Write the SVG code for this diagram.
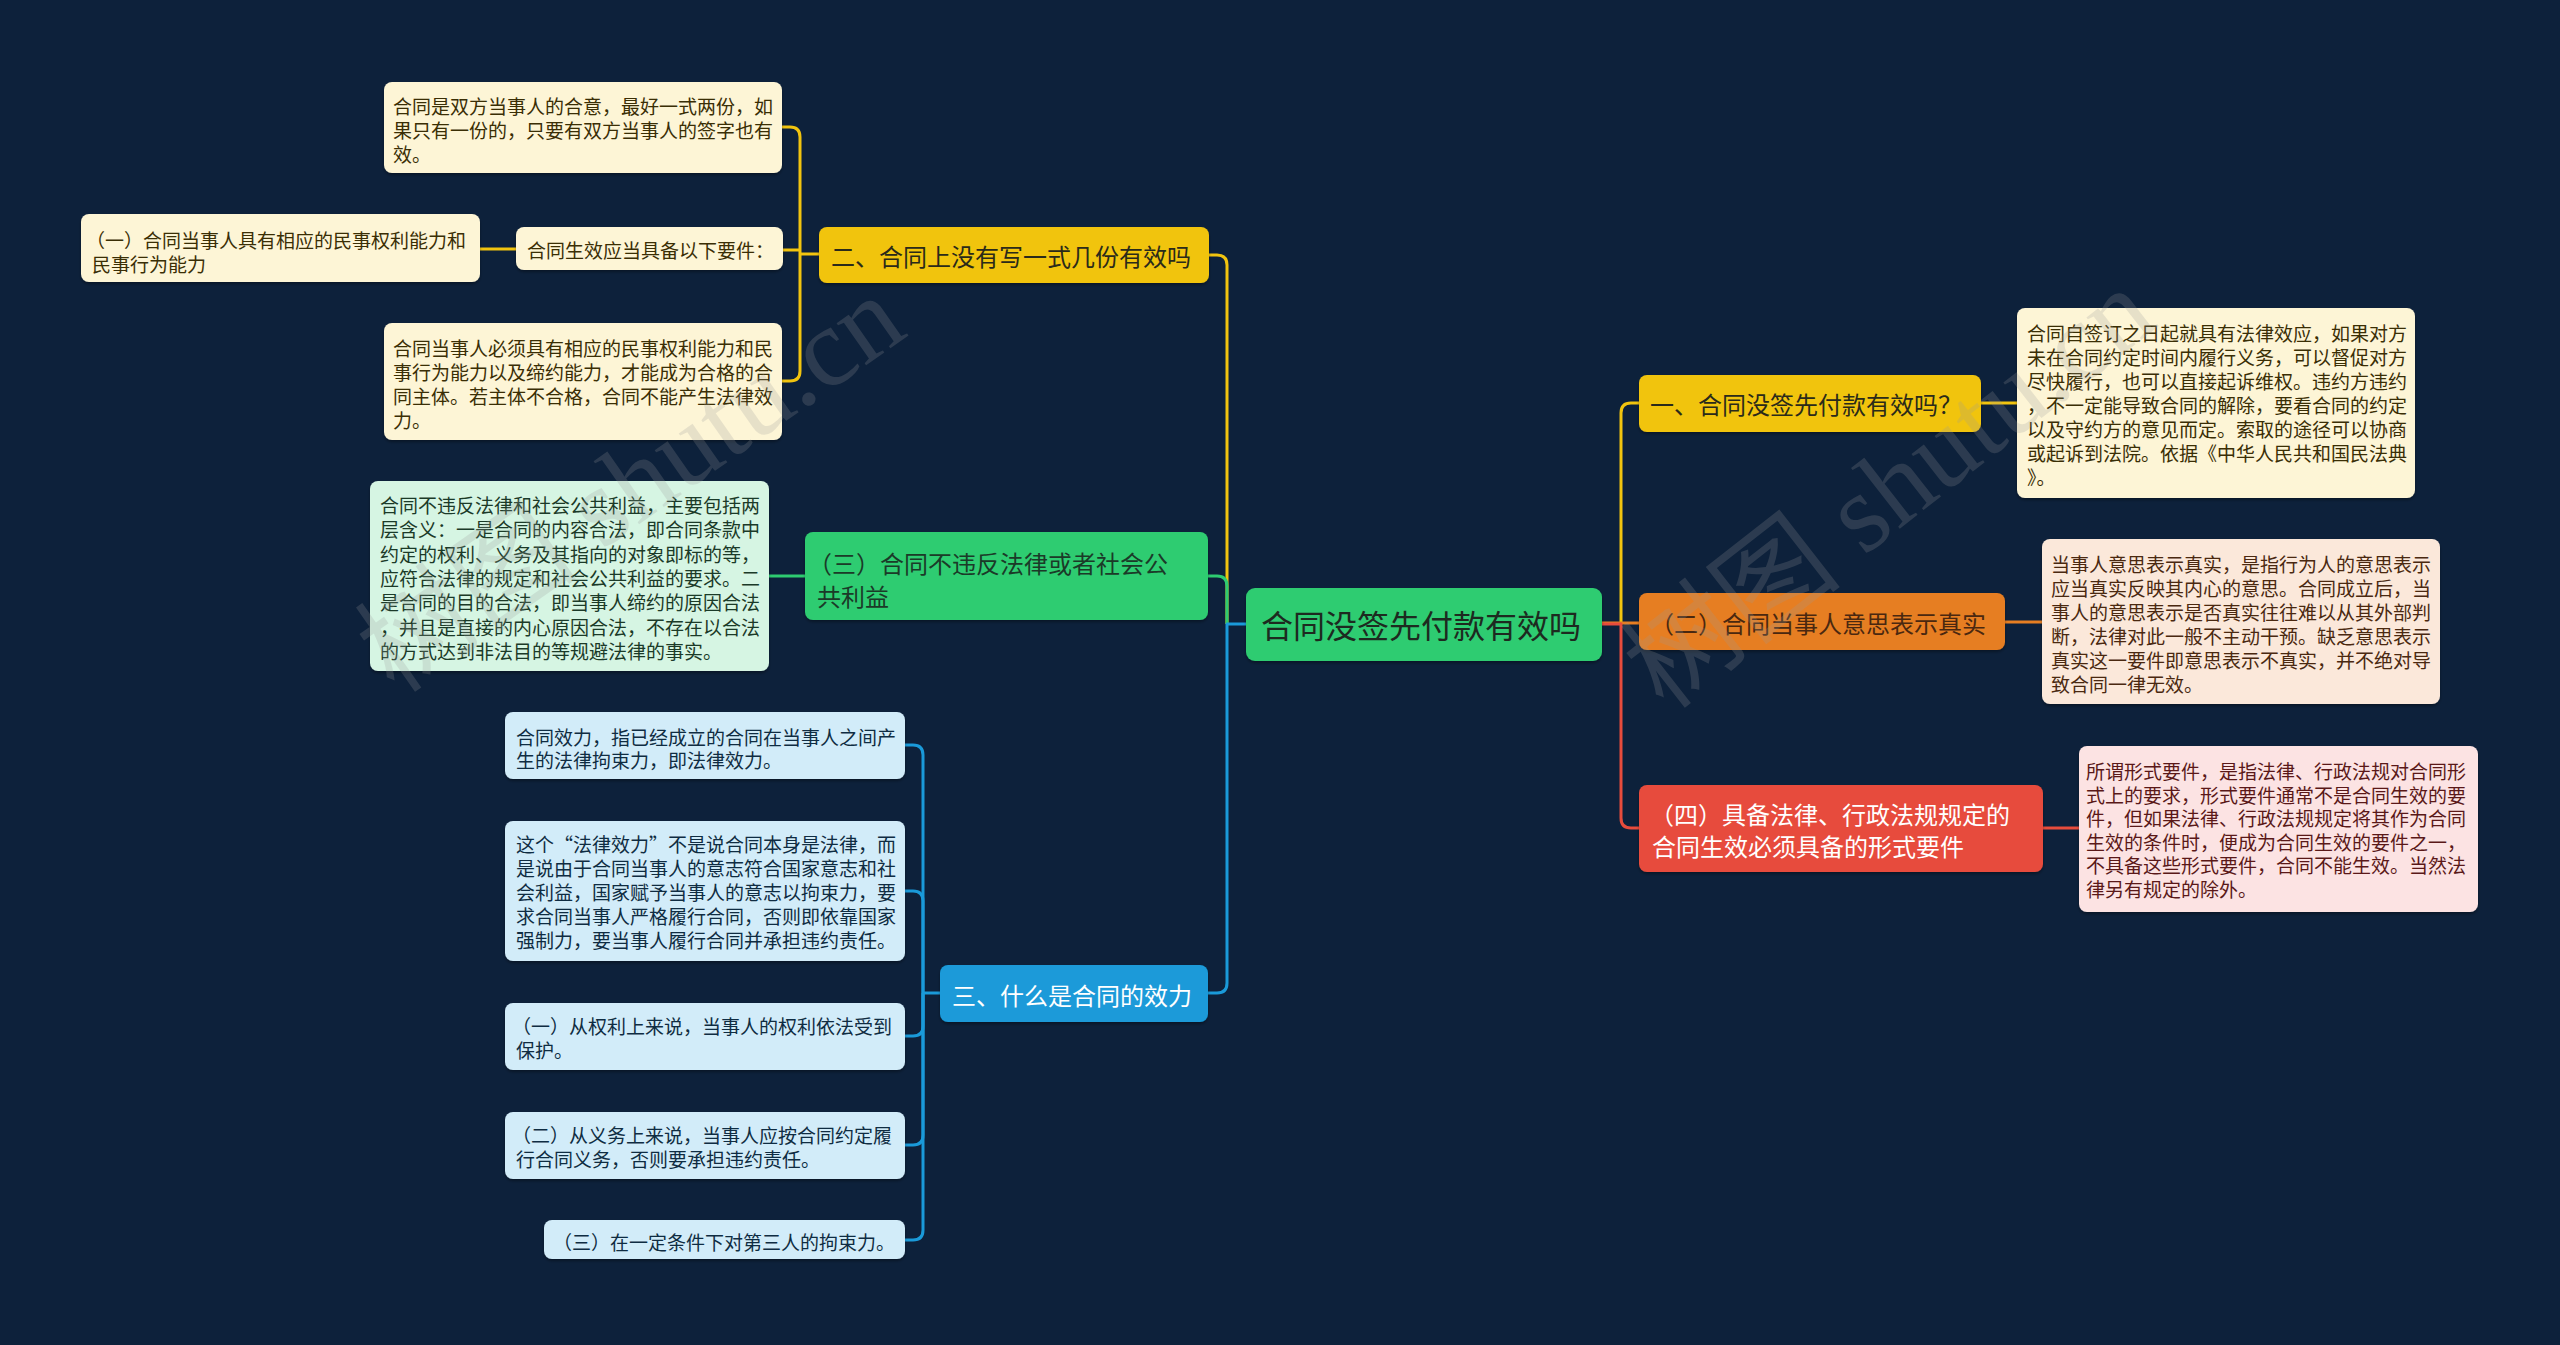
<svg xmlns="http://www.w3.org/2000/svg" width="2560" height="1345" viewBox="0 0 2560 1345">
<defs>
<filter id="sh" x="-5%" y="-5%" width="110%" height="120%">
<feDropShadow dx="0" dy="2" stdDeviation="1.5" flood-color="#000" flood-opacity="0.35"/>
</filter>
<style>
text{font-family:"Noto Sans CJK SC","Noto Sans",sans-serif;dominant-baseline:central}
.lf{font-size:19px}
.br{font-size:24px}
.ct{font-size:32px;fill:#1d2a20}
.c{fill:none;stroke-width:3;stroke-linejoin:round}
.y{stroke:#f1c40f}.g{stroke:#2ecc71}.b{stroke:#1a9ad9}.o{stroke:#e67e22}.r{stroke:#e74c3c}
.by{fill:#f1c40f}.bg2{fill:#2ecc71}.bb{fill:#1a9ad9}.bo{fill:#e67e22}.bred{fill:#e74c3c}
.ly{fill:#fdf5d6}.lg{fill:#d6f5e3}.lb{fill:#d2ecf9}.lo{fill:#fbe8da}.lr{fill:#fce3e3}
.ty{fill:#3a2e05}.tg{fill:#1b3a28}.tb{fill:#0f2c42}.to{fill:#4a2810}.tr{fill:#5a1818}
.tdark{fill:#2a2a1a}.twhite{fill:#ffffff}
.wm{font-family:"Liberation Serif","Noto Sans CJK SC",serif;font-size:112px;fill:#9a9a9a;opacity:0.22;dominant-baseline:auto}
</style>
</defs>
<rect width="2560" height="1345" fill="#0d213b"/>

<g id="connectors">
<path class="c y" d="M1227 624 V265 Q1227 255 1217 255 H1209"/>
<path class="c g" d="M1227 624 V586 Q1227 576 1217 576 H1208"/>
<path class="c b" d="M1246 624 H1227 V983 Q1227 993 1217 993 H1208"/>
<path class="c y" d="M1621 624 V413 Q1621 403 1631 403 H1639"/>
<path class="c o" d="M1602 623 H1639"/>
<path class="c r" d="M1602 624 H1621 V818 Q1621 828 1631 828 H1639"/>
<path class="c y" d="M1981 403 H2017"/>
<path class="c o" d="M2005 622 H2042"/>
<path class="c r" d="M2043 828 H2079"/>
<path class="c y" d="M819 254 H800"/>
<path class="c y" d="M800 254 V137 Q800 127 790 127 H782"/>
<path class="c y" d="M800 254 V371 Q800 381 790 381 H782"/>
<path class="c y" d="M800 250 H783"/>
<path class="c y" d="M516 249 H480"/>
<path class="c g" d="M805 576 H769"/>
<path class="c b" d="M940 993 H923"/>
<path class="c b" d="M923 993 V755 Q923 745 913 745 H905"/>
<path class="c b" d="M923 993 V901 Q923 891 913 891 H905"/>
<path class="c b" d="M923 993 V1026 Q923 1036 913 1036 H905"/>
<path class="c b" d="M923 993 V1135 Q923 1145 913 1145 H905"/>
<path class="c b" d="M923 993 V1230 Q923 1240 913 1240 H905"/>
</g>

<g id="center">
<rect x="1246" y="588" width="356" height="73" rx="9" class="bg2" filter="url(#sh)"/>
<text x="1261" y="624" class="ct">合同没签先付款有效吗</text>
</g>

<g id="b1">
<rect x="1639" y="375" width="342" height="57" rx="8" class="by" filter="url(#sh)"/>
<text x="1650" y="403" class="br tdark">一、合同没签先付款有效吗？</text>
</g>
<g id="b1-leaf">
<rect x="2017" y="308" width="398" height="190" rx="8" class="ly" filter="url(#sh)"/>
<text class="lf ty" x="2027">
<tspan x="2027" y="332">合同自签订之日起就具有法律效应，如果对方</tspan>
<tspan x="2027" y="356">未在合同约定时间内履行义务，可以督促对方</tspan>
<tspan x="2027" y="380">尽快履行，也可以直接起诉维权。违约方违约</tspan>
<tspan x="2027" y="404">，不一定能导致合同的解除，要看合同的约定</tspan>
<tspan x="2027" y="428">以及守约方的意见而定。索取的途径可以协商</tspan>
<tspan x="2027" y="452">或起诉到法院。依据《中华人民共和国民法典</tspan>
<tspan x="2027" y="476">》。</tspan>
</text>
</g>

<g id="b2">
<rect x="1639" y="593" width="366" height="57" rx="8" class="bo" filter="url(#sh)"/>
<text x="1650" y="622" class="br to">（二）合同当事人意思表示真实</text>
</g>
<g id="b2-leaf">
<rect x="2042" y="539" width="398" height="165" rx="8" class="lo" filter="url(#sh)"/>
<text class="lf to">
<tspan x="2051" y="563">当事人意思表示真实，是指行为人的意思表示</tspan>
<tspan x="2051" y="587">应当真实反映其内心的意思。合同成立后，当</tspan>
<tspan x="2051" y="611">事人的意思表示是否真实往往难以从其外部判</tspan>
<tspan x="2051" y="635">断，法律对此一般不主动干预。缺乏意思表示</tspan>
<tspan x="2051" y="659">真实这一要件即意思表示不真实，并不绝对导</tspan>
<tspan x="2051" y="683">致合同一律无效。</tspan>
</text>
</g>

<g id="b4">
<rect x="1639" y="785" width="404" height="87" rx="8" class="bred" filter="url(#sh)"/>
<text class="br twhite">
<tspan x="1650" y="813">（四）具备法律、行政法规规定的</tspan>
<tspan x="1652" y="845">合同生效必须具备的形式要件</tspan>
</text>
</g>
<g id="b4-leaf">
<rect x="2079" y="746" width="399" height="166" rx="8" class="lr" filter="url(#sh)"/>
<text class="lf tr">
<tspan x="2086" y="770">所谓形式要件，是指法律、行政法规对合同形</tspan>
<tspan x="2086" y="794">式上的要求，形式要件通常不是合同生效的要</tspan>
<tspan x="2086" y="817">件，但如果法律、行政法规规定将其作为合同</tspan>
<tspan x="2086" y="841">生效的条件时，便成为合同生效的要件之一，</tspan>
<tspan x="2086" y="864">不具备这些形式要件，合同不能生效。当然法</tspan>
<tspan x="2086" y="888">律另有规定的除外。</tspan>
</text>
</g>

<g id="l2">
<rect x="819" y="227" width="390" height="56" rx="8" class="by" filter="url(#sh)"/>
<text x="831" y="255" class="br tdark">二、合同上没有写一式几份有效吗</text>
</g>
<g id="l2-a">
<rect x="384" y="82" width="398" height="91" rx="8" class="ly" filter="url(#sh)"/>
<text class="lf ty">
<tspan x="393" y="105">合同是双方当事人的合意，最好一式两份，如</tspan>
<tspan x="393" y="129">果只有一份的，只要有双方当事人的签字也有</tspan>
<tspan x="393" y="153">效。</tspan>
</text>
</g>
<g id="l2-b">
<rect x="516" y="227" width="267" height="43" rx="8" class="ly" filter="url(#sh)"/>
<text x="527" y="249" class="lf ty">合同生效应当具备以下要件：</text>
</g>
<g id="l2-b1">
<rect x="81" y="214" width="399" height="68" rx="8" class="ly" filter="url(#sh)"/>
<text class="lf ty">
<tspan x="86" y="239">（一）合同当事人具有相应的民事权利能力和</tspan>
<tspan x="92" y="263">民事行为能力</tspan>
</text>
</g>
<g id="l2-c">
<rect x="384" y="323" width="398" height="117" rx="8" class="ly" filter="url(#sh)"/>
<text class="lf ty">
<tspan x="393" y="347">合同当事人必须具有相应的民事权利能力和民</tspan>
<tspan x="393" y="371">事行为能力以及缔约能力，才能成为合格的合</tspan>
<tspan x="393" y="395">同主体。若主体不合格，合同不能产生法律效</tspan>
<tspan x="393" y="419">力。</tspan>
</text>
</g>

<g id="l3">
<rect x="805" y="532" width="403" height="88" rx="8" class="bg2" filter="url(#sh)"/>
<text class="br tg">
<tspan x="808" y="562">（三）合同不违反法律或者社会公</tspan>
<tspan x="817" y="595">共利益</tspan>
</text>
</g>
<g id="l3-leaf">
<rect x="370" y="481" width="399" height="190" rx="8" class="lg" filter="url(#sh)"/>
<text class="lf tg">
<tspan x="380" y="504">合同不违反法律和社会公共利益，主要包括两</tspan>
<tspan x="380" y="528">层含义：一是合同的内容合法，即合同条款中</tspan>
<tspan x="380" y="553">约定的权利、义务及其指向的对象即标的等，</tspan>
<tspan x="380" y="577">应符合法律的规定和社会公共利益的要求。二</tspan>
<tspan x="380" y="601">是合同的目的合法，即当事人缔约的原因合法</tspan>
<tspan x="380" y="626">，并且是直接的内心原因合法，不存在以合法</tspan>
<tspan x="380" y="650">的方式达到非法目的等规避法律的事实。</tspan>
</text>
</g>

<g id="l4">
<rect x="940" y="965" width="268" height="57" rx="8" class="bb" filter="url(#sh)"/>
<text x="952" y="994" class="br twhite">三、什么是合同的效力</text>
</g>
<g id="l4-1">
<rect x="505" y="712" width="400" height="67" rx="8" class="lb" filter="url(#sh)"/>
<text class="lf tb">
<tspan x="516" y="736">合同效力，指已经成立的合同在当事人之间产</tspan>
<tspan x="516" y="759">生的法律拘束力，即法律效力。</tspan>
</text>
</g>
<g id="l4-2">
<rect x="505" y="821" width="400" height="140" rx="8" class="lb" filter="url(#sh)"/>
<text class="lf tb">
<tspan x="516" y="843">这个“法律效力”不是说合同本身是法律，而</tspan>
<tspan x="516" y="867">是说由于合同当事人的意志符合国家意志和社</tspan>
<tspan x="516" y="891">会利益，国家赋予当事人的意志以拘束力，要</tspan>
<tspan x="516" y="915">求合同当事人严格履行合同，否则即依靠国家</tspan>
<tspan x="516" y="939">强制力，要当事人履行合同并承担违约责任。</tspan>
</text>
</g>
<g id="l4-3">
<rect x="505" y="1003" width="400" height="67" rx="8" class="lb" filter="url(#sh)"/>
<text class="lf tb">
<tspan x="512" y="1025">（一）从权利上来说，当事人的权利依法受到</tspan>
<tspan x="516" y="1049">保护。</tspan>
</text>
</g>
<g id="l4-4">
<rect x="505" y="1112" width="400" height="67" rx="8" class="lb" filter="url(#sh)"/>
<text class="lf tb">
<tspan x="512" y="1134">（二）从义务上来说，当事人应按合同约定履</tspan>
<tspan x="516" y="1158">行合同义务，否则要承担违约责任。</tspan>
</text>
</g>
<g id="l4-5">
<rect x="544" y="1220" width="361" height="39" rx="8" class="lb" filter="url(#sh)"/>
<text x="553" y="1241" class="lf tb">（三）在一定条件下对第三人的拘束力。</text>
</g>

<g id="watermarks">
<text class="wm" transform="translate(395 695) rotate(-35)">树图 shutu.cn</text>
<text class="wm" transform="translate(1665 712) rotate(-38)">树图 shutu.cn</text>
</g>
</svg>
